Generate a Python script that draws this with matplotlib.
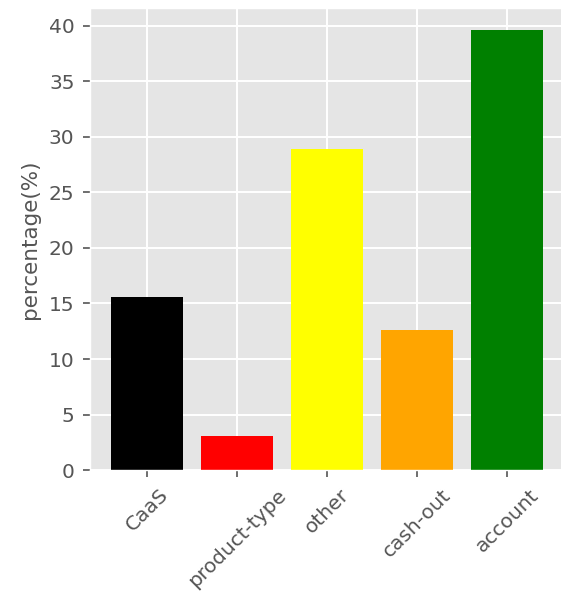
import matplotlib
matplotlib.use("Agg")
import matplotlib.pyplot as plt

plt.style.use("ggplot")

categories = ["CaaS", "product-type", "other", "cash-out", "account"]
values = [15.6, 3.06, 28.9, 12.6, 39.65]
colors = ["black", "red", "yellow", "orange", "green"]

fig, ax = plt.subplots(figsize=(5.61, 5.95), dpi=100)
ax.bar(categories, values, color=colors)
ax.set_ylabel("percentage(%)", fontsize=15.5, labelpad=6)
ax.tick_params(axis="both", labelsize=14.5, length=5, width=1.2, pad=6)
ax.grid(True, color="white", linewidth=1.4)
plt.xticks(rotation=45)

fig.subplots_adjust(left=0.16, right=1.006, bottom=0.21, top=0.987)
fig.savefig("out.png")
